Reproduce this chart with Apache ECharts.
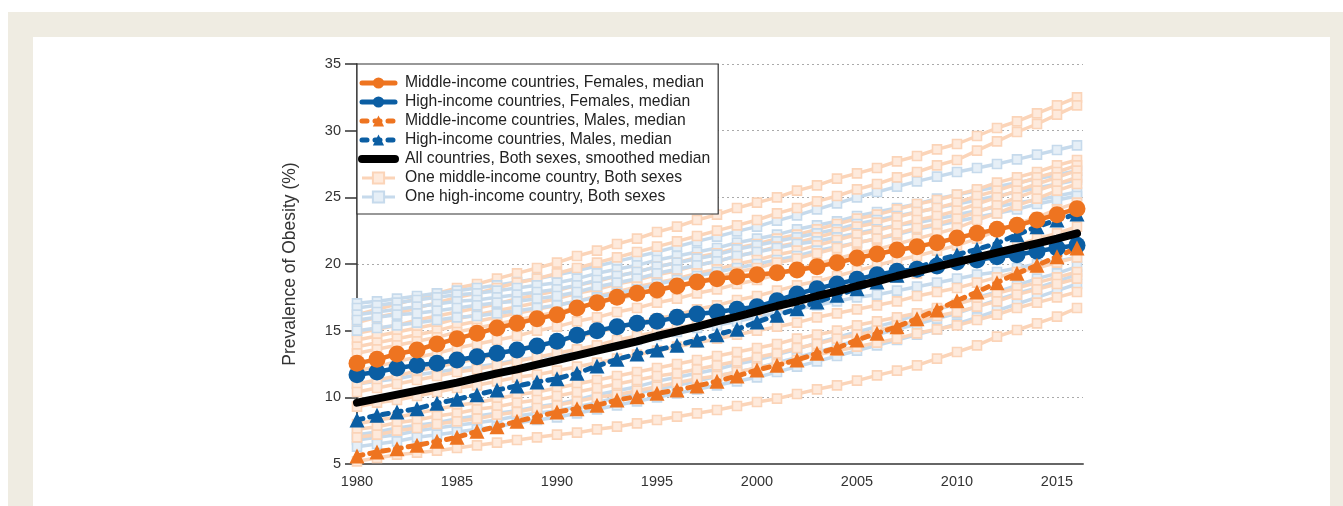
<!DOCTYPE html>
<html><head><meta charset="utf-8">
<script src="https://cdn.jsdelivr.net/npm/echarts@6/dist/echarts.min.js"></script>
<style>
html,body{margin:0;padding:0;width:1343px;height:506px;overflow:hidden;background:#fff;}
#bg{position:absolute;left:8px;top:12px;width:1335px;height:494px;background:#EFECE2;}
#card{position:absolute;left:33px;top:37px;width:1297px;height:469px;background:#fff;}
#chart{position:absolute;left:0;top:0;width:1343px;height:506px;}
</style></head><body>
<div id="bg"></div><div id="card"></div><div id="chart"></div>
<script>
const years = [1980,1981,1982,1983,1984,1985,1986,1987,1988,1989,1990,1991,1992,1993,1994,1995,1996,1997,1998,1999,2000,2001,2002,2003,2004,2005,2006,2007,2008,2009,2010,2011,2012,2013,2014,2015,2016];
const yTicks = [5,10,15,20,25,30,35];
const xTicks = [1980,1985,1990,1995,2000,2005,2010,2015];

const midFemales = [12.55,12.85,13.25,13.55,14.0,14.4,14.8,15.2,15.55,15.9,16.2,16.7,17.1,17.5,17.8,18.05,18.35,18.65,18.9,19.05,19.2,19.35,19.55,19.8,20.1,20.45,20.75,21.05,21.3,21.6,21.95,22.3,22.6,22.9,23.3,23.7,24.15];
const highFemales = [11.7,11.9,12.2,12.4,12.55,12.8,13.05,13.3,13.55,13.85,14.2,14.65,15.0,15.3,15.55,15.7,16.0,16.25,16.4,16.6,16.8,17.25,17.75,18.15,18.5,18.85,19.2,19.45,19.6,19.85,20.15,20.3,20.55,20.7,20.95,21.2,21.4];
const midMales = [5.6,5.9,6.15,6.4,6.7,7.0,7.45,7.8,8.2,8.55,8.9,9.15,9.4,9.8,10.05,10.3,10.55,10.85,11.2,11.6,12.05,12.4,12.8,13.3,13.7,14.3,14.8,15.3,15.9,16.55,17.25,17.9,18.6,19.3,19.9,20.55,21.2];
const highMales = [8.3,8.65,8.9,9.15,9.55,9.85,10.2,10.55,10.85,11.15,11.4,11.8,12.35,12.85,13.25,13.55,13.9,14.3,14.7,15.1,15.65,16.15,16.65,17.15,17.65,18.15,18.65,19.15,19.7,20.25,20.7,21.1,21.55,22.2,22.8,23.3,23.75];
const allSmoothed = [9.6,9.9,10.2,10.5,10.8,11.1,11.45,11.8,12.1,12.45,12.8,13.15,13.5,13.85,14.2,14.6,14.95,15.3,15.7,16.05,16.45,16.85,17.2,17.6,17.95,18.35,18.7,19.1,19.45,19.8,20.15,20.5,20.85,21.2,21.55,21.9,22.3];

const midCountry1 = [16.2,16.6,17.0,17.4,17.8,18.2,18.5,18.9,19.3,19.7,20.1,20.6,21.0,21.5,21.9,22.4,22.8,23.3,23.7,24.2,24.6,25.0,25.5,25.9,26.4,26.8,27.2,27.7,28.1,28.6,29.0,29.6,30.2,30.7,31.3,31.9,32.5];
const midCountry2 = [15.6,16.0,16.3,16.7,17.1,17.5,17.8,18.2,18.6,18.9,19.3,19.7,20.1,20.5,20.9,21.3,21.7,22.1,22.5,22.9,23.3,23.8,24.2,24.7,25.1,25.6,26.0,26.5,26.9,27.4,27.8,28.5,29.2,29.9,30.5,31.2,31.9];
const midCountry3 = [14.8,15.1,15.4,15.8,16.1,16.4,16.7,17.0,17.4,17.7,18.0,18.4,18.7,19.1,19.4,19.8,20.1,20.5,20.8,21.2,21.5,21.9,22.2,22.6,23.0,23.4,23.7,24.1,24.5,24.8,25.2,25.6,26.1,26.5,26.9,27.4,27.8];
const midCountry4 = [14.3,14.6,14.9,15.2,15.5,15.9,16.2,16.5,16.8,17.1,17.4,17.8,18.1,18.5,18.8,19.2,19.5,19.9,20.2,20.6,20.9,21.3,21.6,22.0,22.4,22.8,23.1,23.5,23.9,24.2,24.6,25.1,25.5,26.0,26.5,26.9,27.4];
const midCountry5 = [13.8,14.1,14.4,14.7,15.0,15.4,15.7,16.0,16.3,16.6,16.9,17.2,17.6,17.9,18.3,18.6,18.9,19.3,19.6,20.0,20.3,20.7,21.0,21.4,21.8,22.2,22.5,22.9,23.3,23.6,24.0,24.5,25.0,25.5,26.0,26.5,27.0];
const midCountry6 = [13.3,13.6,13.9,14.2,14.5,14.9,15.2,15.5,15.8,16.1,16.4,16.7,17.1,17.4,17.7,18.1,18.4,18.7,19.0,19.4,19.7,20.1,20.4,20.8,21.2,21.6,21.9,22.3,22.7,23.0,23.4,23.9,24.4,25.0,25.5,26.0,26.5];
const midCountry7 = [12.0,12.3,12.7,13.0,13.3,13.7,14.0,14.3,14.6,15.0,15.3,15.7,16.0,16.4,16.7,17.1,17.4,17.8,18.1,18.5,18.8,19.2,19.6,20.0,20.4,20.8,21.1,21.5,21.9,22.3,22.7,23.3,23.8,24.4,24.9,25.5,26.0];
const midCountry8 = [11.0,11.3,11.6,12.0,12.3,12.6,12.9,13.2,13.6,13.9,14.2,14.5,14.9,15.2,15.6,15.9,16.2,16.6,16.9,17.3,17.6,18.0,18.4,18.7,19.1,19.5,19.9,20.3,20.6,21.0,21.4,21.9,22.5,23.0,23.5,24.1,24.6];
const midCountry9 = [10.4,10.7,11.0,11.3,11.6,11.9,12.1,12.4,12.7,13.0,13.3,13.6,13.9,14.3,14.6,14.9,15.2,15.5,15.9,16.2,16.5,16.9,17.2,17.6,17.9,18.3,18.6,19.0,19.3,19.7,20.0,20.5,20.9,21.4,21.9,22.3,22.8];
const midCountry10 = [9.3,9.6,9.8,10.1,10.4,10.7,10.9,11.2,11.5,11.7,12.0,12.3,12.6,12.9,13.2,13.5,13.8,14.1,14.4,14.7,15.0,15.3,15.6,16.0,16.3,16.6,16.9,17.2,17.6,17.9,18.2,18.6,19.0,19.4,19.7,20.1,20.5];
const midCountry11 = [8.0,8.3,8.5,8.8,9.1,9.4,9.6,9.9,10.2,10.4,10.7,11.0,11.3,11.6,11.9,12.2,12.5,12.8,13.1,13.4,13.7,14.0,14.4,14.7,15.0,15.4,15.7,16.0,16.3,16.7,17.0,17.4,17.8,18.2,18.6,19.0,19.4];
const midCountry12 = [7.6,7.8,8.1,8.3,8.6,8.8,9.1,9.3,9.6,9.8,10.1,10.4,10.7,11.0,11.3,11.6,11.8,12.1,12.4,12.7,13.0,13.3,13.7,14.0,14.4,14.7,15.0,15.4,15.7,16.1,16.4,16.8,17.2,17.7,18.1,18.5,18.9];
const midCountry13 = [7.0,7.2,7.5,7.7,8.0,8.2,8.4,8.7,8.9,9.2,9.4,9.7,10.0,10.2,10.5,10.8,11.1,11.4,11.6,11.9,12.2,12.5,12.8,13.2,13.5,13.8,14.1,14.4,14.8,15.1,15.4,15.8,16.2,16.7,17.1,17.5,17.9];
const midCountry14 = [5.2,5.45,5.7,5.85,6.0,6.2,6.4,6.6,6.8,7.0,7.2,7.35,7.6,7.8,8.05,8.3,8.55,8.8,9.05,9.35,9.65,9.9,10.25,10.6,10.9,11.25,11.65,12.0,12.4,12.9,13.4,13.9,14.55,15.05,15.55,16.05,16.7];

const highCountry1 = [17.05,17.2,17.4,17.6,17.8,18.0,18.2,18.4,18.65,18.9,19.2,19.5,19.85,20.2,20.55,20.9,21.3,21.7,22.05,22.45,22.8,23.25,23.65,24.1,24.55,25.0,25.4,25.8,26.2,26.55,26.9,27.2,27.5,27.85,28.2,28.55,28.9];
const highCountry2 = [16.7,16.9,17.1,17.3,17.5,17.7,17.8,18.0,18.2,18.4,18.6,18.9,19.3,19.6,19.9,20.3,20.6,20.9,21.2,21.6,21.9,22.2,22.6,22.9,23.2,23.6,23.9,24.2,24.5,24.9,25.2,25.5,25.8,26.1,26.4,26.7,27.0];
const highCountry3 = [16.2,16.4,16.6,16.8,17.0,17.2,17.3,17.5,17.7,17.9,18.1,18.4,18.8,19.1,19.4,19.8,20.1,20.4,20.7,21.1,21.4,21.7,22.0,22.3,22.6,23.0,23.3,23.6,23.9,24.2,24.5,24.8,25.1,25.4,25.7,26.0,26.3];
const highCountry4 = [15.8,16.0,16.2,16.3,16.5,16.7,16.9,17.1,17.2,17.4,17.6,17.9,18.3,18.6,18.9,19.3,19.6,19.9,20.2,20.6,20.9,21.2,21.5,21.7,22.0,22.3,22.6,22.9,23.1,23.4,23.7,24.0,24.3,24.6,24.8,25.1,25.4];
const highCountry5 = [15.0,15.2,15.4,15.6,15.8,16.0,16.1,16.3,16.5,16.7,16.9,17.2,17.5,17.8,18.1,18.5,18.8,19.1,19.4,19.7,20.0,20.3,20.6,21.0,21.3,21.6,21.9,22.2,22.6,22.9,23.2,23.5,23.8,24.1,24.5,24.8,25.1];
const highCountry6 = [11.0,11.2,11.4,11.7,11.9,12.1,12.3,12.5,12.8,13.0,13.2,13.5,13.8,14.0,14.3,14.6,14.9,15.2,15.4,15.7,16.0,16.3,16.6,16.9,17.2,17.5,17.7,18.0,18.3,18.6,18.9,19.2,19.4,19.7,20.0,20.2,20.5];
const highCountry7 = [7.2,7.4,7.7,7.9,8.1,8.4,8.6,8.8,9.0,9.3,9.5,9.8,10.2,10.5,10.8,11.2,11.5,11.8,12.1,12.5,12.8,13.2,13.6,14.1,14.5,14.9,15.3,15.7,16.2,16.6,17.0,17.5,17.9,18.4,18.9,19.3,19.8];
const highCountry8 = [6.8,7.0,7.2,7.5,7.7,7.9,8.1,8.3,8.6,8.8,9.0,9.3,9.6,10.0,10.3,10.6,10.9,11.2,11.6,11.9,12.2,12.6,13.0,13.4,13.8,14.3,14.7,15.1,15.5,15.9,16.3,16.8,17.3,17.8,18.2,18.7,19.2];
const highCountry9 = [6.3,6.5,6.7,7.0,7.2,7.4,7.6,7.8,8.1,8.3,8.5,8.8,9.1,9.4,9.7,10.0,10.3,10.6,10.9,11.2,11.5,11.9,12.3,12.7,13.1,13.5,13.9,14.3,14.7,15.1,15.5,16.0,16.5,17.0,17.5,18.0,18.5];

const midCountries = [midCountry1,midCountry2,midCountry3,midCountry4,midCountry5,midCountry6,midCountry7,midCountry8,midCountry9,midCountry10,midCountry11,midCountry12,midCountry13,midCountry14];
const highCountries = [highCountry1,highCountry2,highCountry3,highCountry4,highCountry5,highCountry6,highCountry7,highCountry8,highCountry9];

const NAME_MF = 'Middle-income countries, Females, median';
const NAME_HF = 'High-income countries, Females, median';
const NAME_MM = 'Middle-income countries, Males, median';
const NAME_HM = 'High-income countries, Males, median';
const NAME_ALL = 'All countries, Both sexes, smoothed median';
const NAME_MC = 'One middle-income country, Both sexes';
const NAME_HC = 'One high-income country, Both sexes';

const ORANGE = '#EE7420';
const BLUE = '#0B5EA3';
const PEACH = '#FBD4B8';
const PEACH_FILL = '#FEEADC';
const LBLUE = '#C6DAEC';
const LBLUE_FILL = '#E6EFF7';
const FONT = '"Liberation Sans", Arial, Helvetica, sans-serif';

function pairs(vals){ return years.map((y,i)=>[y, vals[i]]); }

function countrySeries(name, vals, line, fill){
  return {
    name: name, type:'line', data: pairs(vals),
    symbol:'rect', symbolSize:9,
    lineStyle:{color:line, width:3.5},
    itemStyle:{color:fill, borderColor:line, borderWidth:1.6},
    emphasis:{disabled:true}, silent:true, z:2
  };
}

const series = [];
const nMax = Math.max(midCountries.length, highCountries.length);
for (let i=0;i<nMax;i++){
  if (i < midCountries.length) series.push(countrySeries(NAME_MC, midCountries[i], PEACH, PEACH_FILL));
  if (i < highCountries.length) series.push(countrySeries(NAME_HC, highCountries[i], LBLUE, LBLUE_FILL));
}

function medianSeries(name, vals, color, symbol, size, dashed, z){
  return {
    name:name, type:'line', data: pairs(vals),
    symbol:symbol, symbolSize:size,
    lineStyle:{color:color, width:dashed?5:4.5, type: dashed?[6,7]:'solid', cap: dashed?'round':'butt'},
    itemStyle:{color:color},
    emphasis:{disabled:true}, silent:true, z:z
  };
}
series.push(medianSeries(NAME_HM, highMales, BLUE, 'triangle', 15, true, 3));
series.push(medianSeries(NAME_HF, highFemales, BLUE, 'circle', 17, false, 3));
series.push(medianSeries(NAME_MM, midMales, ORANGE, 'triangle', 15, true, 3));
series.push(medianSeries(NAME_MF, midFemales, ORANGE, 'circle', 17, false, 3));
series.push({
  name:NAME_ALL, type:'line', data: pairs(allSmoothed), symbol:'none',
  lineStyle:{color:'#000', width:8, cap:'round'}, itemStyle:{color:'#000'},
  emphasis:{disabled:true}, silent:true, z:4
});

const chart = echarts.init(document.getElementById('chart'), null, {renderer:'canvas'});
chart.setOption({
  animation:false,
  backgroundColor:'transparent',
  grid:{left:357, right:260, top:64, bottom:42, containLabel:false},
  legend:{
    data:[
      {name:NAME_MF, lineStyle:{width:5, cap:'round'}},
      {name:NAME_HF, lineStyle:{width:5, cap:'round'}},
      {name:NAME_MM, lineStyle:{width:5, type:[5,8], cap:'round'}},
      {name:NAME_HM, lineStyle:{width:5, type:[5,8], cap:'round'}},
      {name:NAME_ALL, itemStyle:{color:'rgba(0,0,0,0)', borderWidth:0}, lineStyle:{width:8, cap:'round'}},
      {name:NAME_MC, lineStyle:{width:3}},
      {name:NAME_HC, lineStyle:{width:3}}],
    orient:'vertical', left:357, top:64,
    backgroundColor:'#fff', borderColor:'#333', borderWidth:1.2,
    padding:[9.5,8,7.5,1], itemGap:0, itemWidth:33, itemHeight:14,
    textStyle:{fontSize:15.7, lineHeight:19, color:'#222', fontFamily:FONT, padding:[0,0,0,5]},
    selectedMode:false
  },
  xAxis:{
    type:'value', min:1980, max:2016.3, interval:5,
    axisLine:{show:true, lineStyle:{color:'#666', width:2}},
    axisTick:{show:false},
    axisLabel:{fontSize:14.5, color:'#333', fontFamily:FONT, margin:10,
      formatter:(v)=> xTicks.includes(v)? String(v):''},
    splitLine:{show:false}
  },
  yAxis:{
    type:'value', min:5, max:35, interval:5,
    name:'Prevalence of Obesity (%)', nameLocation:'middle', nameGap:58,
    nameTextStyle:{fontSize:17.5, color:'#333', fontFamily:FONT},
    axisLine:{show:true, lineStyle:{color:'#333', width:1.5}},
    axisTick:{show:true, inside:false, length:12, lineStyle:{color:'#333', width:1.5}},
    axisLabel:{fontSize:14.5, color:'#333', fontFamily:FONT, margin:16,
      formatter:(v)=> yTicks.includes(v)? String(v):''},
    splitLine:{show:true, lineStyle:{color:'#AAAAAA', width:1, type:[2,3]}}
  },
  series: series
});
</script>
</body></html>
